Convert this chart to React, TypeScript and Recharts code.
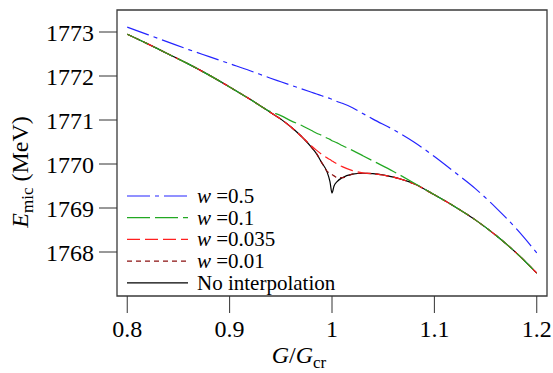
import { LineChart, Line, XAxis, YAxis, ReferenceArea, Legend } from 'recharts'

// G / G_cr sample points (denser near the crossing at 1)
const gRatio = [
  0.8, 0.82, 0.84, 0.86, 0.88, 0.9, 0.92, 0.94, 0.95, 0.96, 0.97, 0.98, 0.985, 0.99, 0.995, 0.998,
  1.0, 1.002, 1.005, 1.01, 1.02, 1.03, 1.04, 1.06, 1.08, 1.1, 1.12, 1.14, 1.16, 1.18, 1.2,
]

// E_mic (MeV)
const w05 = [
  1773.11, 1772.94, 1772.77, 1772.6, 1772.44, 1772.28, 1772.12, 1771.95, 1771.87, 1771.79, 1771.71,
  1771.63, 1771.59, 1771.55, 1771.51, 1771.49, 1771.47, 1771.45, 1771.42, 1771.38, 1771.28, 1771.15,
  1771.02, 1770.78, 1770.5, 1770.17, 1769.81, 1769.44, 1769.01, 1768.53, 1767.98,
]
const w01 = [
  1772.95, 1772.73, 1772.5, 1772.27, 1772.02, 1771.75, 1771.47, 1771.19, 1771.1, 1770.98, 1770.88,
  1770.76, 1770.7, 1770.65, 1770.59, 1770.56, 1770.53, 1770.51, 1770.48, 1770.42, 1770.31, 1770.19,
  1770.07, 1769.83, 1769.57, 1769.3, 1769.03, 1768.73, 1768.38, 1767.98, 1767.52,
]
const w0035 = [
  1772.95, 1772.73, 1772.5, 1772.27, 1772.02, 1771.75, 1771.47, 1771.17, 1771.02, 1770.84, 1770.63,
  1770.41, 1770.31, 1770.22, 1770.14, 1770.1, 1770.07, 1770.04, 1770.0, 1769.94, 1769.85, 1769.8,
  1769.78, 1769.7, 1769.55, 1769.3, 1769.03, 1768.73, 1768.38, 1767.98, 1767.52,
]
const w001 = [
  1772.95, 1772.73, 1772.5, 1772.27, 1772.02, 1771.75, 1771.47, 1771.17, 1771.02, 1770.84, 1770.63,
  1770.38, 1770.23, 1770.03, 1769.84, 1769.79, 1769.76, 1769.73, 1769.69, 1769.69, 1769.77, 1769.79,
  1769.78, 1769.7, 1769.55, 1769.3, 1769.03, 1768.73, 1768.38, 1767.98, 1767.52,
]
const noInterp = [
  1772.95, 1772.73, 1772.5, 1772.27, 1772.02, 1771.75, 1771.47, 1771.17, 1771.02, 1770.84, 1770.63,
  1770.38, 1770.23, 1770.03, 1769.83, 1769.6, 1769.34, 1769.5, 1769.6, 1769.69, 1769.77, 1769.79,
  1769.78, 1769.7, 1769.55, 1769.3, 1769.03, 1768.73, 1768.38, 1767.98, 1767.52,
]

const xTicks = [0.8, 0.9, 1, 1.1, 1.2]
const yTicks = [1768, 1769, 1770, 1771, 1772, 1773]

const seriesNames = ['0.5', '0.1', '0.035', '0.01']
const FONT = "'Liberation Serif', 'DejaVu Serif', serif"

const chartData = gRatio.map((g, i) => ({
  g,
  w05: w05[i],
  w01: w01[i],
  w0035: w0035[i],
  w001: w001[i],
  none: noInterp[i],
}))

const legendRows = [
  { label: seriesNames[0], color: '#2424ff', dash: '23 5 4 5' },
  { label: seriesNames[1], color: '#22a822', dash: '23 5' },
  { label: seriesNames[2], color: '#ff2020', dash: '13 5' },
  { label: seriesNames[3], color: '#8b1010', dash: '5 4' },
  { label: null, color: '#000000', dash: undefined },
]

function LegendBox() {
  return (
    <svg width={250} height={112} style={{ display: 'block' }}>
      {legendRows.map((r, i) => {
        const cy = 13 + i * 21.7
        return (
          <g key={i}>
            <line x1={7} x2={68} y1={cy} y2={cy} stroke={r.color} strokeWidth={1.2} strokeDasharray={r.dash} />
            <text x={77} y={cy + 7} style={{ fontFamily: FONT, fontSize: 21 }} fill="#000">
              {r.label === null ? (
                'No interpolation'
              ) : (
                <>
                  <tspan fontStyle="italic">w</tspan>
                  <tspan> =</tspan>
                  <tspan>{r.label}</tspan>
                </>
              )}
            </text>
          </g>
        )
      })}
    </svg>
  )
}

function XTitle() {
  return (
    <text x={299} y={363} textAnchor="middle" style={{ fontFamily: FONT, fontSize: 24 }} fill="#000">
      <tspan fontStyle="italic">G</tspan>
      <tspan>/</tspan>
      <tspan fontStyle="italic">G</tspan>
      <tspan fontSize={17} dy={5}>cr</tspan>
    </text>
  )
}

function YTitle() {
  return (
    <text transform="translate(28,172) rotate(-90)" textAnchor="middle" style={{ fontFamily: FONT, fontSize: 24 }} fill="#000">
      <tspan fontStyle="italic">E</tspan>
      <tspan fontSize={17} dy={5}>mic</tspan>
      <tspan dy={-5}> (MeV)</tspan>
    </text>
  )
}

export default function App() {
  const tickStyle = { fill: '#000', fontFamily: FONT, fontSize: 24, style: { fontFamily: FONT } }
  return (
    <div style={{ position: 'absolute', left: 0, top: 0, background: '#fff', fontFamily: FONT }}>
      <LineChart width={553} height={373} data={chartData} margin={{ top: 10, right: 6, left: 0, bottom: 0 }}>
        <XAxis
          dataKey="g"
          type="number"
          domain={[0.79, 1.21]}
          ticks={xTicks}
          interval={0}
          axisLine={false}
          tickSize={17}
          tickMargin={7}
          stroke="#333"
          tick={tickStyle}
          height={77}
          label={<XTitle />}
        />
        <YAxis
          type="number"
          domain={[1767, 1773.5]}
          ticks={yTicks}
          interval={0}
          axisLine={false}
          tickSize={18}
          tickMargin={5}
          stroke="#333"
          tick={tickStyle}
          width={117}
          label={<YTitle />}
        />
        <ReferenceArea x1={0.79} x2={1.21} y1={1767} y2={1773.5} fill="none" stroke="#3a3a3a" strokeWidth={1.3} />
        <Line type="monotone" dataKey="none" stroke="#000" strokeWidth={1.2} dot={false} activeDot={false} isAnimationActive={false} />
        <Line type="monotone" dataKey="w001" stroke="#8b1010" strokeWidth={1.2} strokeDasharray="5 4" dot={false} activeDot={false} isAnimationActive={false} />
        <Line type="monotone" dataKey="w0035" stroke="#ff2020" strokeWidth={1.2} strokeDasharray="13 5" dot={false} activeDot={false} isAnimationActive={false} />
        <Line type="monotone" dataKey="w01" stroke="#22a822" strokeWidth={1.2} strokeDasharray="23 5" dot={false} activeDot={false} isAnimationActive={false} />
        <Line type="monotone" dataKey="w05" stroke="#2424ff" strokeWidth={1.2} strokeDasharray="23 5 4 5" dot={false} activeDot={false} isAnimationActive={false} />
        <Legend
          layout="vertical"
          align="center"
          verticalAlign="middle"
          wrapperStyle={{ left: 120, top: 183, width: 250 }}
          content={() => <LegendBox />}
        />
      </LineChart>
    </div>
  )
}
